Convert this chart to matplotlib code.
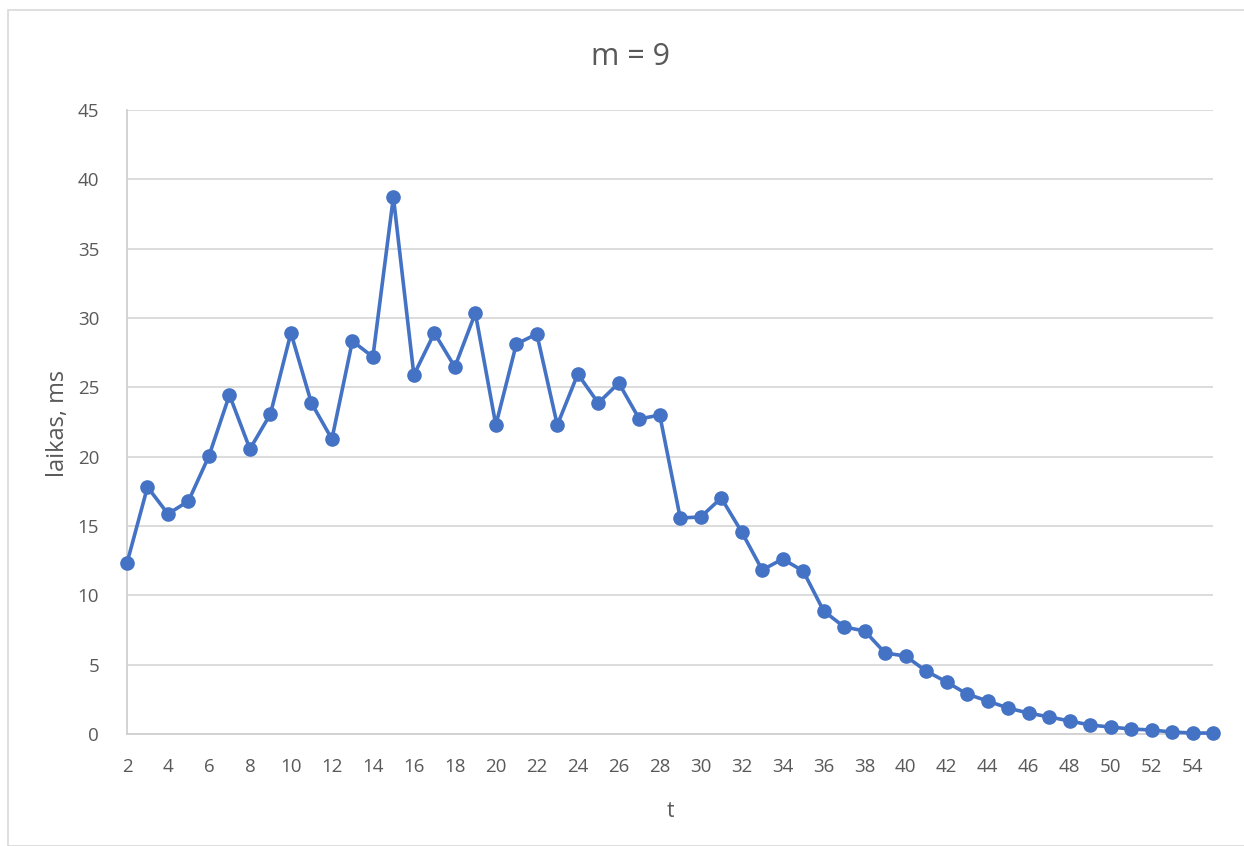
import matplotlib
matplotlib.use("Agg")
import matplotlib.pyplot as plt
from matplotlib.patches import Rectangle

plt.rcParams['font.family'] = ['Open Sans', 'DejaVu Sans']

t = list(range(2, 56))
laikas = [12.33, 17.81, 15.87, 16.80, 20.05, 24.45, 20.55, 23.08, 28.92, 23.87,
          21.27, 28.34, 27.19, 38.73, 25.89, 28.92, 26.47, 30.36, 22.28, 28.12,
          28.85, 22.28, 25.96, 23.87, 25.31, 22.72, 23.00, 15.58, 15.65, 17.02,
          14.57, 11.83, 12.62, 11.75, 8.87, 7.72, 7.43, 5.84, 5.62, 4.54,
          3.75, 2.88, 2.38, 1.87, 1.51, 1.23, 0.94, 0.65, 0.50, 0.36,
          0.29, 0.14, 0.07, 0.07]
x_ticks = list(range(2, 55, 2))
y_ticks = list(range(0, 46, 5))
title = "m = 9"
xlabel = "t"
ylabel = "laikas, ms"

fig = plt.figure(figsize=(12.44, 8.46), dpi=100)
ax = fig.add_axes([127/1244, 1-734/846, (1213-127)/1244, (734-110)/846])

color = "#4472C4"
ax.plot(t, laikas, color=color, linewidth=2.6, marker='o', markersize=9.5,
        markerfacecolor=color, markeredgecolor=color, zorder=3, clip_on=False)

ax.set_xlim(2, 55)
ax.set_ylim(0, 45)
ax.set_xticks(x_ticks)
ax.set_yticks(y_ticks)
ax.grid(axis='y', color='#D9D9D9', linewidth=1.3)
ax.set_axisbelow(True)
for s in ['top', 'right']:
    ax.spines[s].set_visible(False)
ax.spines['left'].set_color('#D0D0D0')
ax.spines['bottom'].set_color('#D0D0D0')
ax.spines['left'].set_linewidth(1.3)
ax.spines['bottom'].set_linewidth(1.3)
ax.tick_params(length=0, labelsize=13.5, labelcolor='#595959')
ax.tick_params(axis='x', pad=17)
ax.tick_params(axis='y', pad=20)

fig.text(630/1244, 1-57/846, title, fontsize=22, color='#595959',
         ha='center', va='center')
ax.set_xlabel(xlabel, fontsize=15, color='#595959', labelpad=18)
ax.set_ylabel(ylabel, fontsize=17, color='#595959', labelpad=5)
ax.yaxis.set_label_coords(58/1244, 0.5, transform=fig.transFigure)
ax.yaxis.label.set_va('center')

fig.patches.append(Rectangle((8/1244, 0), 1.2, 1-10/846, transform=fig.transFigure,
                             fill=False, edgecolor='#D9D9D9', linewidth=1.2))

fig.savefig("out.png", dpi=100, facecolor='white')
